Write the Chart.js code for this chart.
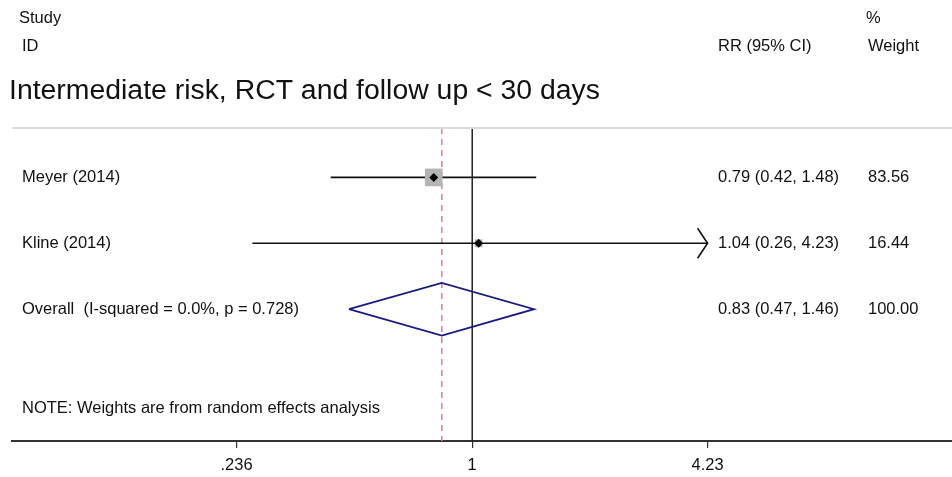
<!DOCTYPE html>
<html>
<head>
<meta charset="utf-8">
<script src="https://cdn.jsdelivr.net/npm/chart.js@4"></script>
<style>
  html, body { margin: 0; padding: 0; background: #fff; overflow: hidden; }
</style>
</head>
<body>
<canvas id="forest" width="952" height="477"></canvas>
<script>
// study rows
const studies = ['Meyer (2014)', 'Kline (2014)'];
const rr = [0.79, 1.04];
const lower = [0.42, 0.26];
const upper = [1.48, 4.23];
const weights = [83.56, 16.44];
const ciText = ['0.79 (0.42, 1.48)', '1.04 (0.26, 4.23)'];
const weightText = ['83.56', '16.44'];

// pooled estimate
const overallLabel = 'Overall  (I-squared = 0.0%, p = 0.728)';
const overall = { rr: 0.83, lower: 0.47, upper: 1.46 };
const overallCi = '0.83 (0.47, 1.46)';
const overallWeight = '100.00';

// axis
const tickValues = [0.236, 1, 4.23];
const tickLabels = ['.236', '1', '4.23'];
const axisMax = 4.23; // CI beyond this gets an arrow

const ln = Math.log;
const FONT = '"Liberation Sans", Arial, sans-serif';
const rows = [1, 2];
const overallRow = 3;
const noteRow = 4.5;

const ciLines = studies.map((s, i) => ({
    type: 'line',
    data: [{ x: ln(lower[i]), y: rows[i] }, { x: ln(upper[i]), y: rows[i] }],
    borderColor: '#111',
    borderWidth: 1.6,
    pointRadius: 0,
    order: 3
}));

const boxes = {
    type: 'scatter',
    data: studies.map((s, i) => ({ x: ln(rr[i]), y: rows[i] })),
    pointStyle: 'rect',
    pointRadius: weights.map(w => 12.5 * Math.sqrt(w / weights[0])),
    backgroundColor: '#b4b4b4',
    borderWidth: 0,
    order: 2
};

const dots = {
    type: 'scatter',
    data: studies.map((s, i) => ({ x: ln(rr[i]), y: rows[i] })),
    pointStyle: 'rectRot',
    pointRadius: 4.5,
    backgroundColor: '#000',
    borderWidth: 0,
    order: 1
};

const diamond = {
    type: 'line',
    data: [
        { x: ln(overall.lower), y: overallRow },
        { x: ln(overall.rr), y: overallRow - 0.4 },
        { x: ln(overall.upper), y: overallRow },
        { x: ln(overall.rr), y: overallRow + 0.4 },
        { x: ln(overall.lower), y: overallRow }
    ],
    borderColor: '#1a1a86',
    borderWidth: 1.8,
    pointRadius: 0,
    tension: 0,
    order: 1
};

const nullLine = {
    type: 'line',
    data: [{ x: 0, y: 0.25 }, { x: 0, y: 5 }],
    borderColor: '#111',
    borderWidth: 1.4,
    pointRadius: 0,
    order: 4
};

const pooledLine = {
    type: 'line',
    data: [{ x: ln(overall.rr), y: 0.25 }, { x: ln(overall.rr), y: 5 }],
    borderColor: '#d98a8e',
    borderWidth: 1.6,
    borderDash: [6, 5],
    pointRadius: 0,
    order: 5
};

// text columns, header, arrows
const forestText = {
    id: 'forestText',
    afterDraw(chart) {
        const ctx = chart.ctx;
        const xs = chart.scales.x, ys = chart.scales.y;
        const area = chart.chartArea;
        ctx.save();

        // arrow heads for truncated CIs
        ctx.strokeStyle = '#111';
        ctx.lineWidth = 1.6;
        studies.forEach((s, i) => {
            if (upper[i] >= axisMax) {
                const px = xs.getPixelForValue(ln(upper[i]));
                const py = ys.getPixelForValue(rows[i]);
                ctx.beginPath();
                ctx.moveTo(px - 10, py - 15);
                ctx.lineTo(px, py);
                ctx.lineTo(px - 10, py + 15);
                ctx.stroke();
            }
        });

        // separator under title
        ctx.strokeStyle = '#dcdcdc';
        ctx.lineWidth = 2;
        ctx.beginPath();
        ctx.moveTo(area.left, area.top);
        ctx.lineTo(area.right, area.top);
        ctx.stroke();

        ctx.fillStyle = '#111';
        ctx.textBaseline = 'middle';
        ctx.textAlign = 'left';
        ctx.font = '16.5px ' + FONT;
        ctx.fillText('Study', 19, 18);
        ctx.fillText('ID', 22, 46);
        ctx.fillText('%', 866, 18);
        ctx.fillText('RR (95% CI)', 718, 46);
        ctx.fillText('Weight', 868, 46);

        ctx.font = '28.4px ' + FONT;
        ctx.fillText('Intermediate risk, RCT and follow up < 30 days', 9, 91);

        ctx.font = '16.5px ' + FONT;
        studies.forEach((s, i) => {
            const py = ys.getPixelForValue(rows[i]);
            ctx.fillText(s, 22, py);
            ctx.fillText(ciText[i], 718, py);
            ctx.fillText(weightText[i], 868, py);
        });
        const oy = ys.getPixelForValue(overallRow);
        ctx.fillText(overallLabel, 22, oy);
        ctx.fillText(overallCi, 718, oy);
        ctx.fillText(overallWeight, 868, oy);
        ctx.fillText('NOTE: Weights are from random effects analysis', 22, ys.getPixelForValue(noteRow));
        ctx.restore();
    }
};

new Chart(document.getElementById('forest'), {
    type: 'scatter',
    data: { datasets: [pooledLine, nullLine, ...ciLines, boxes, dots, diamond] },
    options: {
        responsive: false,
        animation: false,
        layout: { autoPadding: false, padding: { left: 12, right: 0, top: 128, bottom: 0 } },
        plugins: { legend: { display: false }, tooltip: { enabled: false } },
        scales: {
            x: {
                type: 'linear',
                min: -2.82,
                max: 2.94,
                afterBuildTicks: (scale) => {
                    scale.ticks = tickValues.map(v => ({ value: ln(v) }));
                },
                afterFit: (scale) => {
                    scale.height = 36;
                    scale.paddingLeft = 0;
                    scale.paddingRight = 0;
                },
                ticks: {
                    autoSkip: false,
                    maxRotation: 0,
                    padding: 8,
                    color: '#111',
                    font: { family: FONT, size: 16.5 },
                    callback: (v, i) => tickLabels[i]
                },
                grid: { drawOnChartArea: false, tickLength: 7, color: '#333', lineWidth: 1.2 },
                border: { color: '#333', width: 2 }
            },
            y: {
                type: 'linear',
                reverse: true,
                min: 0.25,
                max: 5,
                display: false
            }
        }
    },
    plugins: [forestText]
});
</script>
</body>
</html>
